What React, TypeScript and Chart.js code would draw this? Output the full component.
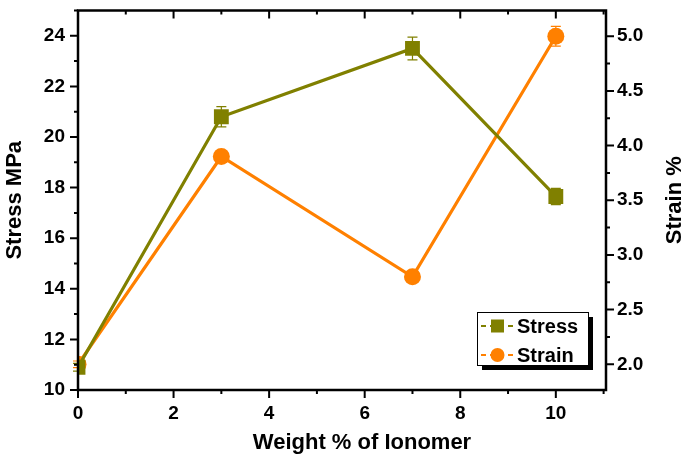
import React, { useEffect, useRef } from "react";
import { Chart, registerables } from "chart.js";

Chart.register(...registerables);

const weights = [0, 3, 7, 10];
const stress = [10.9, 20.8, 23.5, 17.65];
const stressErr = [0.15, 0.4, 0.45, 0.32];
const strain = [2.0, 3.9, 2.8, 5.0];
const strainErr = [0.03, 0.05, 0.03, 0.09];

const xTicks = [0, 2, 4, 6, 8, 10];
const xMinor = [1, 3, 5, 7, 9, 11];
const yTicks = [10, 12, 14, 16, 18, 20, 22, 24];
const yMinor = [11, 13, 15, 17, 19, 21, 23, 25];
const y1Ticks = [2.0, 2.5, 3.0, 3.5, 4.0, 4.5, 5.0];
const y1Minor = [1.75, 2.25, 2.75, 3.25, 3.75, 4.25, 4.75, 5.25];

const STRESS_COLOR = "#808000";
const STRAIN_COLOR = "#FF8000";
const FONT = "'Liberation Sans', Arial, sans-serif";

const framePlugin = {
  id: "frame",
  beforeDatasetsDraw(chart: any) {
    const ctx = chart.ctx;
    const sets = [
      { data: stress, err: stressErr, axis: "y", color: STRESS_COLOR },
      { data: strain, err: strainErr, axis: "y1", color: STRAIN_COLOR },
    ];
    ctx.save();
    ctx.lineWidth = 1.2;
    for (const s of sets) {
      const ys = chart.scales[s.axis];
      ctx.strokeStyle = s.color;
      s.data.forEach((v: number, i: number) => {
        const px = chart.scales.x.getPixelForValue(weights[i]);
        const top = ys.getPixelForValue(v + s.err[i]);
        const bot = ys.getPixelForValue(v - s.err[i]);
        ctx.beginPath();
        ctx.moveTo(px, top);
        ctx.lineTo(px, bot);
        ctx.moveTo(px - 5, top);
        ctx.lineTo(px + 5, top);
        ctx.moveTo(px - 5, bot);
        ctx.lineTo(px + 5, bot);
        ctx.stroke();
      });
    }
    ctx.restore();
  },
  afterDraw(chart: any) {
    const ctx = chart.ctx;
    const a = chart.chartArea;
    const x = chart.scales.x;
    const y = chart.scales.y;
    const y1 = chart.scales.y1;
    ctx.save();
    ctx.strokeStyle = "#000";
    ctx.lineWidth = 2.5;
    ctx.lineCap = "butt";
    ctx.beginPath();
    ctx.rect(a.left, a.top, a.right - a.left, a.bottom - a.top);
    ctx.stroke();
    ctx.lineWidth = 2;
    ctx.beginPath();
    const drawX = (vals: number[], len: number) => {
      vals.forEach((v) => {
        const p = x.getPixelForValue(v);
        if (p > a.right + 1) return;
        ctx.moveTo(p, a.bottom);
        ctx.lineTo(p, a.bottom + len);
        ctx.moveTo(p, a.top);
        ctx.lineTo(p, a.top + len);
      });
    };
    drawX(xTicks, 8);
    drawX(xMinor, 4);
    const drawY = (vals: number[], len: number) => {
      vals.forEach((v) => {
        const p = y.getPixelForValue(v);
        if (p < a.top - 1) return;
        ctx.moveTo(a.left, p);
        ctx.lineTo(a.left - len, p);
      });
    };
    drawY(yTicks, 8);
    drawY(yMinor, 4);
    const drawY1 = (vals: number[], len: number) => {
      vals.forEach((v) => {
        const p = y1.getPixelForValue(v);
        if (p < a.top - 1 || p > a.bottom + 1) return;
        ctx.moveTo(a.right, p);
        ctx.lineTo(a.right + len, p);
      });
    };
    drawY1(y1Ticks, 8);
    drawY1(y1Minor, 4);
    ctx.stroke();

    ctx.fillStyle = "#000";
    ctx.font = `bold 22px ${FONT}`;
    ctx.textAlign = "center";
    ctx.textBaseline = "middle";
    // x axis title
    ctx.fillText("Weight % of Ionomer", 362, 443);
    // right axis title (reads bottom-to-top)
    ctx.save();
    ctx.translate(675, (a.top + a.bottom) / 2);
    ctx.rotate(-Math.PI / 2);
    ctx.fillText("Strain %", 0, 0);
    ctx.restore();

    // legend
    const lx = 477, ly = 312, lw = 111, lh = 53;
    ctx.fillStyle = "#000";
    ctx.fillRect(lx + 5, ly + 5, lw, lh);
    ctx.fillStyle = "#fff";
    ctx.fillRect(lx, ly, lw, lh);
    ctx.lineWidth = 1;
    ctx.strokeStyle = "#000";
    ctx.strokeRect(lx + 0.5, ly + 0.5, lw, lh);
    const items = [
      { label: "Stress", color: STRESS_COLOR, style: "rect", cy: ly + 14 },
      { label: "Strain", color: STRAIN_COLOR, style: "circle", cy: ly + 43 },
    ];
    for (const it of items) {
      ctx.strokeStyle = it.color;
      ctx.lineWidth = 2;
      ctx.setLineDash([5, 4]);
      ctx.beginPath();
      ctx.moveTo(lx + 4, it.cy);
      ctx.lineTo(lx + 36, it.cy);
      ctx.stroke();
      ctx.setLineDash([]);
      ctx.fillStyle = it.color;
      if (it.style === "rect") {
        ctx.fillRect(lx + 14, it.cy - 6.5, 13, 13);
      } else {
        ctx.beginPath();
        ctx.arc(lx + 20.5, it.cy, 7, 0, Math.PI * 2);
        ctx.fill();
      }
      ctx.fillStyle = "#000";
      ctx.font = `bold 20px ${FONT}`;
      ctx.textBaseline = "middle";
      ctx.textAlign = "left";
      ctx.fillText(it.label, lx + 40, it.cy + 1);
    }
    ctx.restore();
  },
};

export default function App() {
  const ref = useRef<HTMLCanvasElement>(null);
  useEffect(() => {
    if (!ref.current) return;
    const tickFont = { family: FONT, size: 19, weight: "bold" as const };
    const titleFont = { family: FONT, size: 22, weight: "bold" as const };
    const chart = new Chart(ref.current, {
      type: "line",
      data: {
        datasets: [
          {
            label: "Stress",
            data: weights.map((w, i) => ({ x: w, y: stress[i] })),
            yAxisID: "y",
            borderColor: STRESS_COLOR,
            backgroundColor: STRESS_COLOR,
            borderWidth: 3.2,
            pointStyle: "rect",
            pointRadius: 10.5,
            pointBorderWidth: 0,
            tension: 0,
          },
          {
            label: "Strain",
            data: weights.map((w, i) => ({ x: w, y: strain[i] })),
            yAxisID: "y1",
            borderColor: STRAIN_COLOR,
            backgroundColor: STRAIN_COLOR,
            borderWidth: 3.2,
            pointStyle: "circle",
            pointRadius: 8.5,
            pointBorderWidth: 0,
            tension: 0,
          },
        ],
      },
      options: {
        animation: false,
        responsive: false,
        layout: { padding: { top: 6, left: 0, right: 0, bottom: 0 } },
        plugins: { legend: { display: false }, tooltip: { enabled: false } },
        scales: {
          x: {
            type: "linear",
            min: 0,
            max: 11.05,
            afterBuildTicks: (s: any) => {
              s.ticks = xTicks.map((v) => ({ value: v }));
            },
            afterFit: (s: any) => {
              s.height = 70;
              s.paddingLeft = 0;
              s.paddingRight = 0;
            },
            grid: { display: false, drawTicks: false },
            border: { display: false },
            ticks: { font: tickFont, color: "#000", padding: 12, maxRotation: 0 },
            title: { display: false },
          },
          y: {
            type: "linear",
            position: "left",
            min: 10,
            max: 25,
            afterBuildTicks: (s: any) => {
              s.ticks = yTicks.map((v) => ({ value: v }));
            },
            afterFit: (s: any) => {
              s.width = 78;
              s.paddingTop = 0;
              s.paddingBottom = 0;
            },
            grid: { display: false, drawTicks: false },
            border: { display: false },
            ticks: { font: tickFont, color: "#000", padding: 13 },
            title: {
              display: true,
              text: "Stress MPa",
              font: titleFont,
              color: "#000",
              padding: { top: 2, bottom: 0 },
            },
          },
          y1: {
            type: "linear",
            position: "right",
            min: 1.765,
            max: 5.235,
            afterBuildTicks: (s: any) => {
              s.ticks = y1Ticks.map((v) => ({ value: v }));
            },
            afterFit: (s: any) => {
              s.width = 79;
              s.paddingTop = 0;
              s.paddingBottom = 0;
            },
            grid: { display: false, drawTicks: false },
            border: { display: false },
            ticks: {
              font: tickFont,
              color: "#000",
              padding: 11,
              callback: (v: any) => Number(v).toFixed(1),
            },
            title: { display: false },
          },
        },
      },
      plugins: [framePlugin],
    } as any);
    return () => chart.destroy();
  }, []);
  return (
    <div style={{ position: "fixed", left: 0, top: 0, width: 685, height: 460, background: "#fff" }}>
      <canvas ref={ref} width={685} height={460} style={{ display: "block" }} />
    </div>
  );
}
